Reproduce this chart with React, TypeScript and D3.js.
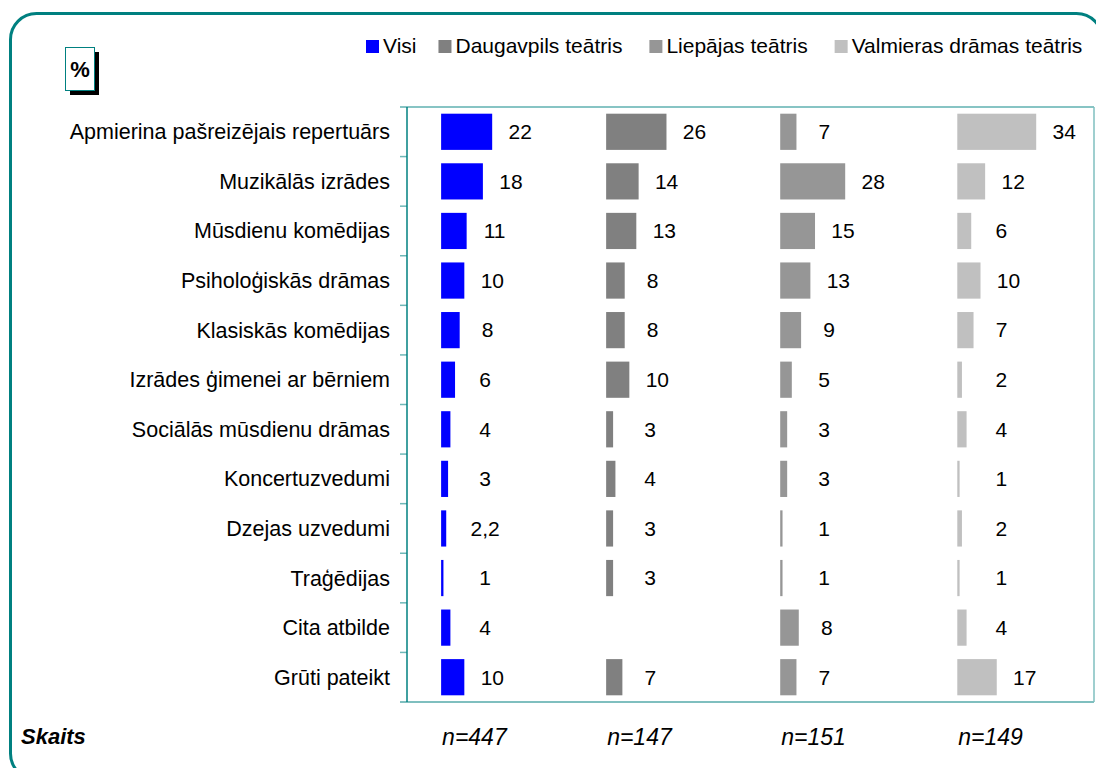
import React, { useEffect, useRef } from 'react';
import * as d3 from 'd3';

const categories = [
  'Apmierina pašreizējais repertuārs',
  'Muzikālās izrādes',
  'Mūsdienu komēdijas',
  'Psiholoģiskās drāmas',
  'Klasiskās komēdijas',
  'Izrādes ģimenei ar bērniem',
  'Sociālās mūsdienu drāmas',
  'Koncertuzvedumi',
  'Dzejas uzvedumi',
  'Traģēdijas',
  'Cita atbilde',
  'Grūti pateikt',
];
const seriesNames = ['Visi', 'Daugavpils teātris', 'Liepājas teātris', 'Valmieras drāmas teātris'];
const visi = [22, 18, 11, 10, 8, 6, 4, 3, 2.2, 1, 4, 10];
const daugavpils = [26, 14, 13, 8, 8, 10, 3, 4, 3, 3, null, 7];
const liepaja = [7, 28, 15, 13, 9, 5, 3, 3, 1, 1, 8, 7];
const valmiera = [34, 12, 6, 10, 7, 2, 4, 1, 2, 1, 4, 17];
const sampleSizes = ['n=447', 'n=147', 'n=151', 'n=149'];

const FONT = 'Arial, "Liberation Sans", sans-serif';

export default function App() {
  const ref = useRef<SVGSVGElement>(null);

  useEffect(() => {
    const width = 1096;
    const height = 768;
    const plot = { left: 407, right: 1094, top: 107, bottom: 702 };
    // each theatre column starts at its own offset on the shared % axis
    const groupOffset = [14.7, 85.8, 160.8, 237.1];
    const colors = ['#0000ff', '#808080', '#969696', '#c0c0c0'];
    const series = [visi, daugavpils, liepaja, valmiera];

    const svg = d3.select(ref.current);
    svg.selectAll('*').remove();
    svg.attr('width', width).attr('height', height);

    // outer rounded frame
    svg.append('rect')
      .attr('x', 10.5).attr('y', 13.5)
      .attr('width', 1092).attr('height', 766)
      .attr('rx', 26)
      .attr('fill', 'none')
      .attr('stroke', '#008080')
      .attr('stroke-width', 3);

    const x = d3.scaleLinear().domain([0, 296]).range([plot.left, plot.right]);
    const y = d3.scaleBand<string>()
      .domain(categories)
      .range([plot.top, plot.bottom])
      .paddingInner(0.27)
      .paddingOuter(0.135);

    // plot frame
    const frame = svg.append('g');
    frame.append('line')
      .attr('x1', 400).attr('x2', plot.right)
      .attr('y1', plot.top).attr('y2', plot.top)
      .attr('stroke', '#5fb0b0').attr('stroke-width', 1.5);
    frame.append('line')
      .attr('x1', plot.right).attr('x2', plot.right)
      .attr('y1', plot.top).attr('y2', plot.bottom)
      .attr('stroke', '#7fbfbf').attr('stroke-width', 1.5);
    frame.append('line')
      .attr('x1', 400).attr('x2', plot.right)
      .attr('y1', plot.bottom).attr('y2', plot.bottom)
      .attr('stroke', '#7fbfbf').attr('stroke-width', 2);

    const step = y.step();
    frame.selectAll('line.tick')
      .data(d3.range(1, categories.length))
      .enter()
      .append('line')
      .attr('class', 'tick')
      .attr('x1', 400).attr('x2', plot.left)
      .attr('y1', i => plot.top + i * step)
      .attr('y2', i => plot.top + i * step)
      .attr('stroke', '#6fb8b8').attr('stroke-width', 1.5);
    frame.append('line')
      .attr('x1', plot.left).attr('x2', plot.left)
      .attr('y1', plot.top).attr('y2', plot.bottom)
      .attr('stroke', '#008080').attr('stroke-width', 1.5);

    // category labels
    svg.append('g')
      .selectAll('text')
      .data(categories)
      .enter()
      .append('text')
      .attr('x', 390)
      .attr('y', d => y(d)! + y.bandwidth() / 2)
      .attr('dy', '0.35em')
      .attr('text-anchor', 'end')
      .style('font-family', FONT)
      .style('font-size', '21.5px')
      .attr('fill', '#000')
      .text(d => d);

    // bars and value labels per theatre
    series.forEach((values, s) => {
      const start = x(groupOffset[s]);
      const rows = categories
        .map((c, i) => ({ c, v: values[i] }))
        .filter(d => d.v !== null) as { c: string; v: number }[];
      const g = svg.append('g');
      g.selectAll('rect')
        .data(rows)
        .enter()
        .append('rect')
        .attr('x', start)
        .attr('y', d => y(d.c)!)
        .attr('width', d => x(groupOffset[s] + d.v) - start)
        .attr('height', y.bandwidth())
        .attr('fill', colors[s]);
      g.selectAll('text')
        .data(rows)
        .enter()
        .append('text')
        .attr('x', d => Math.max(x(groupOffset[s] + d.v) + 28, start + 44))
        .attr('y', d => y(d.c)! + y.bandwidth() / 2)
        .attr('dy', '0.35em')
        .attr('text-anchor', 'middle')
        .style('font-family', FONT)
        .style('font-size', '21px')
        .text(d => String(d.v).replace('.', ','));

      svg.append('text')
        .attr('x', start + 1)
        .attr('y', 745)
        .style('font-family', FONT)
        .style('font-size', '23px')
        .style('font-style', 'italic')
        .text(sampleSizes[s]);
    });

    svg.append('text')
      .attr('x', 21)
      .attr('y', 744)
      .style('font-family', FONT)
      .style('font-size', '22px')
      .style('font-style', 'italic')
      .style('font-weight', 'bold')
      .text('Skaits');

    // "%" box with shadow
    svg.append('rect')
      .attr('x', 70).attr('y', 52).attr('width', 29).attr('height', 43)
      .attr('fill', '#000');
    svg.append('rect')
      .attr('x', 65.5).attr('y', 47.5).attr('width', 29).attr('height', 43)
      .attr('fill', '#fff').attr('stroke', '#008080').attr('stroke-width', 1);
    svg.append('text')
      .attr('x', 80).attr('y', 77)
      .attr('text-anchor', 'middle')
      .style('font-family', FONT)
      .style('font-size', '22px')
      .style('font-weight', 'bold')
      .text('%');

    // legend
    const legend = svg.append('g');
    let lx = 366;
    seriesNames.forEach((name, i) => {
      legend.append('rect')
        .attr('x', lx).attr('y', 40)
        .attr('width', 13).attr('height', 13)
        .attr('fill', colors[i]);
      const t = legend.append('text')
        .attr('x', lx + 17)
        .attr('y', 53)
        .style('font-family', FONT)
        .style('font-size', '21px')
        .text(name);
      const w = (t.node() as SVGTextElement).getComputedTextLength();
      lx += 17 + w + (i === 0 ? 22 : 27);
    });
  }, []);

  return <svg ref={ref} style={{ position: 'absolute', left: 0, top: 0 }}></svg>;
}
